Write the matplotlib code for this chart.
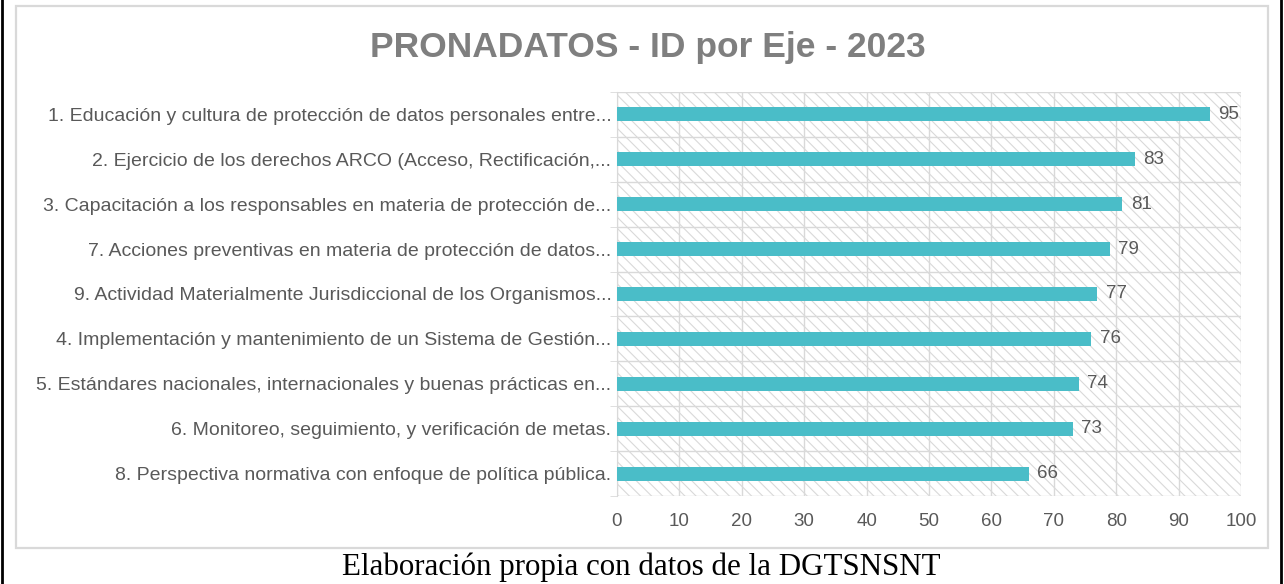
import matplotlib.pyplot as plt
from matplotlib.patches import Rectangle
from matplotlib.lines import Line2D

# -----------------
# Data
# -----------------

ejes = [
    "1. Educación y cultura de protección de datos personales entre...",
    "2. Ejercicio de los derechos ARCO (Acceso, Rectificación,...",
    "3. Capacitación a los responsables en materia de protección de...",
    "7. Acciones preventivas en materia de protección de datos...",
    "9. Actividad Materialmente Jurisdiccional de los Organismos...",
    "4. Implementación y mantenimiento de un Sistema de Gestión...",
    "5. Estándares nacionales, internacionales y buenas prácticas en...",
    "6. Monitoreo, seguimiento, y verificación de metas.",
    "8. Perspectiva normativa con enfoque de política pública.",
]
valores = [95, 83, 81, 79, 77, 76, 74, 73, 66]
x_ticks = [0, 10, 20, 30, 40, 50, 60, 70, 80, 90, 100]

bar_color = '#4ABDC8'
text_gray = '#595959'
grid_gray = '#d9d9d9'

plt.rcParams['font.family'] = ['Liberation Sans', 'DejaVu Sans']
plt.rcParams['hatch.color'] = grid_gray
plt.rcParams['hatch.linewidth'] = 0.8

fig = plt.figure(figsize=(12.84, 5.84), dpi=100)

# chart frame and outer page borders
fig.patches.append(Rectangle((16 / 1284, 36 / 584), 1252 / 1284, 542 / 584,
                             transform=fig.transFigure, facecolor='white',
                             edgecolor=grid_gray, linewidth=1.6, zorder=-5))
fig.lines.append(Line2D([2 / 1284, 2 / 1284], [0, 1], transform=fig.transFigure,
                        color='black', linewidth=2))
fig.lines.append(Line2D([1281 / 1284, 1281 / 1284], [0, 1], transform=fig.transFigure,
                        color='black', linewidth=2))

ax = fig.add_axes([617 / 1284, 88 / 584, 624 / 1284, 404 / 584])
ax.set_zorder(2)

n = len(ejes)
ypos = list(range(n))

# hatched background
ax.add_patch(Rectangle((0, -0.5), 100, n, facecolor='white', edgecolor=grid_gray,
                       hatch='\\\\\\', linewidth=0, zorder=0))

ax.barh(ypos, valores, height=0.31, color=bar_color, zorder=3)
for y, v in zip(ypos, valores):
    ax.annotate(str(v), (v, y), xytext=(6, 0), textcoords='offset points',
                ha='left', va='center', fontsize=13.5, color=text_gray)

ax.set_xlim(0, 100)
ax.set_ylim(n - 0.5, -0.5)
ax.set_xticks(x_ticks)
ax.set_xticklabels([str(t) for t in x_ticks], fontsize=13.5, color=text_gray)
ax.set_yticks(ypos)
ax.set_yticklabels(ejes, fontsize=14, color=text_gray)
ax.set_yticks([i - 0.5 for i in range(n + 1)], minor=True)

ax.tick_params(axis='x', length=0, pad=12)
ax.tick_params(axis='y', which='major', length=0, pad=4)
ax.tick_params(axis='y', which='minor', length=5, color=grid_gray)

# grid
for t in x_ticks:
    ax.axvline(t, color=grid_gray, linewidth=1, zorder=1)
for i in range(n + 1):
    ax.axhline(i - 0.5, color=grid_gray, linewidth=1, zorder=1)

for s in ax.spines.values():
    s.set_visible(False)
ax.spines['left'].set_visible(True)
ax.spines['left'].set_color(grid_gray)
ax.set_facecolor('none')

fig.text(648 / 1284, 1 - 47 / 584, 'PRONADATOS - ID por Eje - 2023',
         fontweight='bold', fontsize=25.5, color='#7f7f7f', ha='center', va='center')

fig.text(641 / 1284, 1 - 567 / 584, 'Elaboración propia con datos de la DGTSNSNT',
         family=['Liberation Serif', 'DejaVu Serif'], fontsize=22.3,
         color='black', ha='center', va='center')

fig.savefig('out.png', dpi=100)
